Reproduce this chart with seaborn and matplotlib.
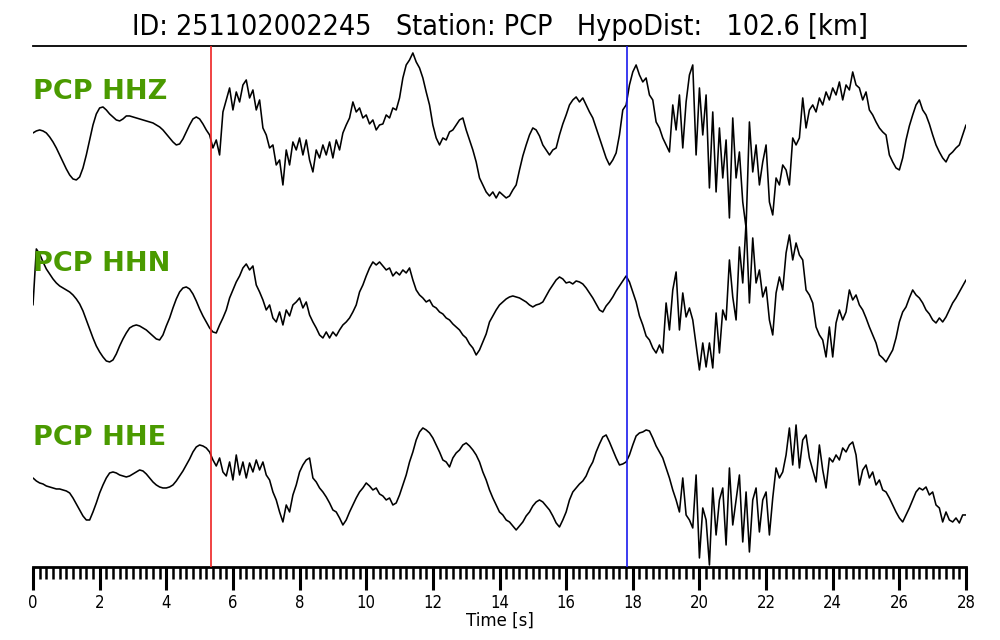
import numpy as np
import pandas as pd
import matplotlib
matplotlib.use("Agg")
import matplotlib.pyplot as plt
import seaborn as sns

# ---------------- data (0.1 s sampling) ----------------
title_text = "ID: 251102002245   Station: PCP   HypoDist:   102.6 [km]"
station = "PCP"
channels = ["HHZ", "HHN", "HHE"]
sample_dt = 0.1
p_pick = 5.34
s_pick = 17.83
x_ticks = [0, 2, 4, 6, 8, 10, 12, 14, 16, 18, 20, 22, 24, 26, 28]

hhz = [-3, -1, 0, -1, -3, -7, -12, -18, -25, -32, -39, -45, -49, -50, -47, -38, -25, -10, 5, 16,
       22, 23, 20, 16, 13, 10, 9, 11, 14, 14, 13, 12, 11, 10, 9, 8, 7, 5, 3, 0,
       -4, -8, -12, -15, -14, -9, -2, 5, 11, 13, 11, 6, 0, -5, -18, -10, -25, 18, 30, 42,
       20, 38, 28, 45, 50, 32, 40, 20, 30, 2, -5, -18, -15, -35, -30, -55, -20, -35, -12, -20,
       -8, -25, -10, -30, -42, -20, -28, -15, -25, -12, -28, -10, -20, -3, 5, 12, 28, 18, 22, 12,
       15, 6, 10, 0, 5, 6, 15, 12, 22, 20, 32, 52, 65, 70, 77, 68, 62, 52, 38, 25,
       5, -8, -15, -8, -10, -2, 0, 5, 10, 12, 0, -10, -20, -32, -48, -55, -62, -66, -62, -68,
       -62, -65, -68, -66, -60, -55, -40, -26, -15, -5, 2, 0, -6, -15, -20, -25, -20, -18, -5, 6,
       15, 25, 30, 33, 28, 32, 25, 18, 12, 2, -8, -18, -28, -35, -30, -23, -5, 20, 25, 45,
       58, 65, 55, 48, 52, 35, 30, 8, 2, -8, -15, -22, 25, 0, 35, -18, 28, 55, 65, -25,
       42, -5, 35, -58, 18, -62, 2, -48, -10, -88, 12, -48, -22, -72, -98, 8, -42, -15, -55, -32,
       -15, -72, -85, -48, -55, -35, -40, -55, -8, -15, -8, 32, 2, 20, 25, 18, 32, 25, 38, 30,
       42, 35, 48, 30, 45, 40, 58, 45, 42, 30, 38, 20, 15, 8, 2, -2, -5, -25, -32, -38,
       -40, -28, -10, 4, 15, 25, 30, 20, 15, 6, -5, -15, -22, -28, -32, -25, -22, -18, -15, -5,
       5]

hhn = [-5, 51, 46, 38, 31, 26, 21, 17, 14, 12, 10, 8, 5, 1, -4, -11, -20, -29, -38, -46,
       -52, -57, -61, -62, -60, -54, -46, -39, -33, -28, -26, -25, -26, -28, -30, -33, -36, -39, -40, -35,
       -26, -18, -8, 1, 8, 12, 13, 11, 6, -1, -9, -16, -22, -28, -32, -33, -25, -18, -10, 2,
       10, 18, 24, 32, 36, 30, 34, 15, 8, 0, -10, -5, -18, -22, -12, -25, -10, -16, -5, -2,
       2, -8, -2, -15, -22, -28, -35, -38, -32, -38, -32, -36, -30, -25, -22, -18, -12, -5, 8, 15,
       24, 32, 38, 35, 38, 34, 30, 32, 24, 28, 25, 30, 27, 32, 20, 10, 5, 2, -2, 0,
       -6, -8, -12, -14, -18, -20, -24, -27, -30, -35, -38, -44, -48, -55, -50, -42, -34, -22, -16, -10,
       -5, -2, 1, 3, 4, 3, 2, 0, -2, -5, -7, -5, -4, -2, 4, 10, 15, 20, 23, 21,
       17, 18, 16, 19, 18, 16, 12, 7, 2, -4, -10, -12, -6, -2, 3, 9, 14, 19, 24, 18,
       8, -2, -16, -25, -36, -40, -48, -53, -45, -53, -3, -30, 10, 28, -30, 7, -17, -8, -20, -45,
       -70, -43, -67, -43, -68, -13, -53, -10, -20, 40, 3, -20, 53, 17, 78, -3, 62, 17, 30, 3,
       13, -20, -35, 7, 23, 10, 47, 65, 40, 57, 45, 40, 10, 5, -3, -27, -35, -40, -57, -27,
       -57, -23, -10, -20, -12, 10, 0, 5, -5, -10, -18, -27, -35, -43, -55, -58, -62, -56, -50, -38,
       -22, -12, -7, 2, 10, 5, 2, -3, -10, -14, -20, -23, -18, -22, -17, -10, -3, 2, 8, 14,
       20]

hhe = [2, -1, -3, -4, -6, -7, -8, -9, -9, -10, -11, -13, -18, -24, -30, -36, -40, -40, -32, -23,
       -13, -5, 2, 7, 8, 7, 5, 4, 3, 4, 6, 8, 10, 9, 6, 2, -2, -5, -7, -8,
       -8, -7, -5, -1, 4, 9, 15, 21, 28, 33, 35, 34, 32, 28, 20, 14, 22, 8, 4, 18,
       0, 25, 5, 18, 2, 17, 8, 20, 10, 18, 5, 0, -12, -20, -32, -42, -25, -32, -15, -5,
       8, 15, 20, 22, 2, -2, -8, -12, -17, -23, -30, -32, -38, -45, -40, -32, -25, -18, -12, -8,
       -3, -6, -10, -8, -14, -16, -20, -18, -25, -23, -15, -5, 5, 18, 28, 40, 48, 52, 50, 47,
       42, 35, 28, 20, 18, 13, 22, 27, 30, 35, 37, 34, 30, 25, 18, 8, 0, -10, -18, -25,
       -32, -35, -40, -42, -46, -50, -46, -42, -36, -32, -26, -22, -20, -22, -26, -30, -36, -43, -47, -40,
       -32, -20, -12, -8, -4, -1, 4, 12, 18, 28, 36, 43, 45, 38, 30, 22, 15, 16, 18, 25,
       35, 44, 47, 48, 50, 49, 42, 34, 28, 22, 12, 2, -10, -20, -32, 2, -35, -40, -48, 5,
       -78, -28, -40, -85, -8, -55, -20, -8, -65, 12, -45, -20, 5, -62, -12, -72, -20, -8, -52, -20,
       -12, -55, -18, 12, 2, 8, 25, 52, 15, 55, 12, 40, 45, 22, 10, -2, 35, 10, -8, 22,
       18, 25, 20, 32, 28, 35, 38, 25, -5, 10, 15, 2, 8, -5, 0, -10, -12, -18, -25, -32,
       -38, -42, -35, -28, -20, -12, -8, -10, -7, -15, -12, -25, -28, -42, -32, -40, -42, -38, -43, -35,
       -35]

traces = {"HHZ": hhz, "HHN": hhn, "HHE": hhe}
trace_centre = {"HHZ": -130, "HHN": -300, "HHE": -480}
label_y = {"HHZ": -92, "HHN": -264, "HHE": -438}

frames = []
for ch in channels:
    vals = np.asarray(traces[ch], dtype=float)
    t = np.round(np.arange(len(vals)) * sample_dt, 2)
    frames.append(pd.DataFrame({"time": t, "y": vals + trace_centre[ch], "channel": ch}))
df = pd.concat(frames, ignore_index=True)

# ---------------- plot ----------------
sns.set_style("white")
plt.rcParams["font.family"] = ["DejaVu Sans"]
plt.rcParams["text.color"] = "black"
plt.rcParams["xtick.color"] = "black"
plt.rcParams["axes.labelcolor"] = "black"

fig = plt.figure(figsize=(10, 6.4), dpi=100)
ax = fig.add_axes([0.033, 0.1141, 0.933, 0.8141])

sns.lineplot(data=df, x="time", y="y", units="channel", estimator=None,
             sort=False, color="black", linewidth=1.15, ax=ax, legend=False)

ax.axvline(p_pick, color="#ee2222", linewidth=1.2, zorder=3)
ax.axvline(s_pick, color="#1a1aee", linewidth=1.2, zorder=3)

for ch in channels:
    ax.text(0.0, label_y[ch], f"{station} {ch}", color="#4a9a00", fontsize=19.5,
            fontweight="bold", ha="left", va="center", zorder=5)

ax.set_xlim(0, 28)
ax.set_ylim(-567, -46)
ax.set_yticks([])
ax.set_ylabel("")
ax.set_xticks(x_ticks)
ax.set_xticks(np.round(np.arange(0, 28.01, 0.2), 1), minor=True)
ax.tick_params(axis="x", which="major", direction="out", length=16.5, width=2.2,
               labelsize=12, pad=3, bottom=True, colors="black")
ax.tick_params(axis="x", which="minor", direction="out", length=8.5, width=1.8,
               bottom=True, colors="black")
for lbl in ax.get_xticklabels():
    lbl.set_fontstretch("condensed")
ax.set_xlabel("Time [s]", fontsize=12, labelpad=0)

for side in ["left", "right"]:
    ax.spines[side].set_visible(False)
ax.spines["top"].set_linewidth(1.3)
ax.spines["bottom"].set_linewidth(2.0)
for side in ["top", "bottom"]:
    ax.spines[side].set_color("black")

ax.set_title(title_text, fontsize=20.5, fontstretch="condensed", pad=8, color="black")

fig.savefig("out.png", dpi=100)
